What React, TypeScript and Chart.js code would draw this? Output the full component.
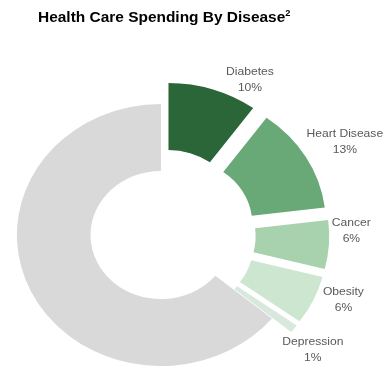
import React, { useEffect, useRef } from "react";
import { Chart, registerables } from "chart.js";

Chart.register(...registerables);

// ---- data ----
const categories = ["Diabetes", "Heart Disease", "Cancer", "Obesity", "Depression", "Other"];
const percentages = [10, 13, 6, 6, 1, 64];
const showLabel = [true, true, true, true, true, false];

// ---- style ----
const colors = ["#2a6637", "#69a877", "#a8d1ae", "#cce6d0", "#d9e8dc", "#d9d9d9"];
const explode = [22, 22, 22, 22, 22, 0];
const labelNudgeDeg = [9.5, 1.5, -5, -3.7, 2, 0];
const labelNudgeR = [-4, -2, 0, 0, -7, 0];
const STRETCH_X = 1.1;
const LINE_H = 16;
const LABEL_FONT = "11px 'Liberation Sans', Arial, sans-serif";
const LABEL_COLOR = "#595959";

const explodePlugin = {
  id: "explodeStretch",
  beforeDatasetDraw(chart: any, args: any) {
    const { ctx } = chart;
    const arcs = args.meta.data;
    if (!arcs.length) return false;
    const cx = arcs[0].x;
    const cy = arcs[0].y;
    ctx.save();
    ctx.translate(cx, cy);
    ctx.scale(STRETCH_X, 1);
    ctx.translate(-cx, -cy);
    arcs.forEach((arc: any, i: number) => {
      const mid = (arc.startAngle + arc.endAngle) / 2;
      ctx.save();
      ctx.translate(Math.cos(mid) * explode[i], Math.sin(mid) * explode[i]);
      arc.draw(ctx);
      ctx.restore();
    });
    ctx.font = LABEL_FONT;
    ctx.fillStyle = LABEL_COLOR;
    ctx.textAlign = "center";
    ctx.textBaseline = "middle";
    arcs.forEach((arc: any, i: number) => {
      if (!showLabel[i]) return;
      const lines = [categories[i], percentages[i] + "%"];
      const w = Math.max(...lines.map((l) => ctx.measureText(l).width));
      const a = (arc.startAngle + arc.endAngle) / 2 + (labelNudgeDeg[i] * Math.PI) / 180;
      const dx = Math.cos(a);
      const dy = Math.sin(a);
      const r =
        arc.outerRadius + explode[i] + (w / 2) * Math.abs(dx) + LINE_H * Math.abs(dy) + 2 + labelNudgeR[i];
      const x = cx + dx * r;
      const y = cy + dy * r;
      lines.forEach((l, k) => ctx.fillText(l, x, y + (k - 0.5) * LINE_H));
    });
    ctx.restore();
    return false;
  },
};

export default function App() {
  const ref = useRef<HTMLCanvasElement | null>(null);
  useEffect(() => {
    if (!ref.current) return;
    const chart = new Chart(ref.current, {
      type: "doughnut",
      data: {
        labels: categories,
        datasets: [
          {
            data: percentages,
            backgroundColor: colors,
            borderWidth: 0,
          },
        ],
      },
      options: {
        responsive: false,
        animation: false,
        radius: 131,
        cutout: 68,
        layout: { padding: { left: 0, right: 62, top: 96, bottom: 0 } },
        plugins: {
          legend: { display: false },
          tooltip: { enabled: false },
          title: { display: false },
        },
      } as any,
      plugins: [explodePlugin as any],
    });
    return () => chart.destroy();
  }, []);

  return (
    <div style={{ position: "fixed", left: 0, top: 0, width: 384, height: 374, background: "#fff" }}>
      <canvas ref={ref} width={384} height={374} style={{ display: "block", width: 384, height: 374 }} />
      <div
        style={{
          position: "absolute",
          left: 38,
          top: 8,
          font: "bold 15px 'Liberation Sans', Arial, sans-serif",
          lineHeight: "18px",
          color: "#000",
          whiteSpace: "nowrap",
          transform: "scaleX(1.03)",
          transformOrigin: "left top",
        }}
      >
        Health Care Spending By Disease
        <sup style={{ fontSize: 9, lineHeight: 0, verticalAlign: "6px" }}>2</sup>
      </div>
    </div>
  );
}
